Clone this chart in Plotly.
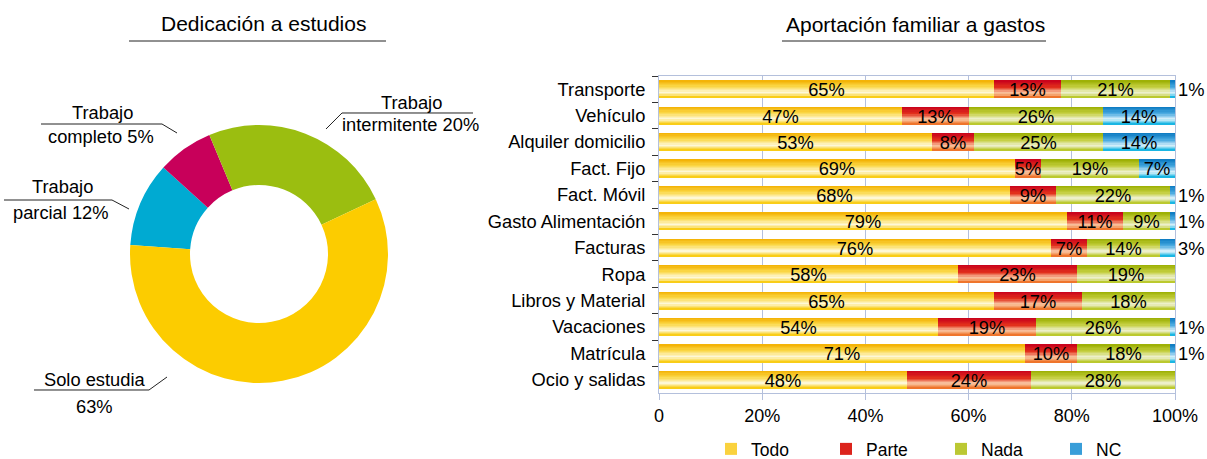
import plotly.graph_objects as go

W, H = 1207, 459
FONT = "Liberation Sans, Arial, sans-serif"

# ---------------- data ----------------
donut_names = ["Trabajo parcial", "Trabajo completo", "Trabajo intermitente", "Solo estudia"]
donut_shares = [10.6, 7.0, 24.3, 58.1]          # arc shares as drawn
donut_colors = ["#00aad2", "#c8005a", "#9bbe10", "#fccc00"]

categories = ["Transporte", "Vehículo", "Alquiler domicilio", "Fact. Fijo", "Fact. Móvil",
              "Gasto Alimentación", "Facturas", "Ropa", "Libros y Material", "Vacaciones",
              "Matrícula", "Ocio y salidas"]
todo = [65, 47, 53, 69, 68, 79, 76, 58, 65, 54, 71, 48]
parte = [13, 13, 8, 5, 9, 11, 7, 23, 17, 19, 10, 24]
nada = [21, 26, 25, 19, 22, 9, 14, 19, 18, 26, 18, 28]
nc = [1, 14, 14, 7, 1, 1, 3, 0, 0, 1, 1, 0]
series_names = ["Todo", "Parte", "Nada", "NC"]
x_tickvals = [0, 20, 40, 60, 80, 100]
x_ticktext = ["0", "20%", "40%", "60%", "80%", "100%"]

# vertical gradient stops per series (position from top, colour)
gradients = {
    "Todo":  [(0.0, "#f3b000"), (0.35, "#fbd848"), (0.68, "#fef8d8"), (1.0, "#f8c800")],
    "Parte": [(0.0, "#c8001c"), (0.40, "#e2301c"), (0.70, "#fac8a4"), (1.0, "#ee6a1c")],
    "Nada":  [(0.0, "#9aae00"), (0.38, "#c4cf40"), (0.70, "#f0f2d4"), (1.0, "#b4c418")],
    "NC":    [(0.0, "#0a78c0"), (0.38, "#46a8e0"), (0.70, "#dcf3fc"), (1.0, "#00aee0")],
}


def hex2rgb(h):
    h = h.lstrip("#")
    return tuple(int(h[i:i + 2], 16) for i in (0, 2, 4))


def grad_color(stops, t):
    for (p0, c0), (p1, c1) in zip(stops[:-1], stops[1:]):
        if p0 <= t <= p1:
            f = (t - p0) / (p1 - p0) if p1 > p0 else 0
            a, b = hex2rgb(c0), hex2rgb(c1)
            r = [round(a[i] + (b[i] - a[i]) * f) for i in range(3)]
            return "rgb(%d,%d,%d)" % tuple(r)
    return stops[-1][1]


fig = go.Figure()

# ---------------- donut ----------------
cx, cy, R = 259, 254, 129
fig.add_trace(go.Pie(
    labels=donut_names, values=donut_shares, hole=0.535, sort=False,
    direction="clockwise", rotation=-86,
    marker=dict(colors=donut_colors, line=dict(width=0)),
    textinfo="none", hoverinfo="skip", showlegend=False,
    domain=dict(x=[(cx - R) / W, (cx + R) / W], y=[1 - (cy + R) / H, 1 - (cy - R) / H]),
))

# ---------------- stacked bars with gradient ----------------
BW = 0.68
NSTRIP = 14
series_vals = [todo, parte, nada, nc]
bases = []
acc = [0] * len(categories)
for vals in series_vals:
    bases.append(list(acc))
    acc = [a + v for a, v in zip(acc, vals)]

for name, vals, base in zip(series_names, series_vals, bases):
    stops = gradients[name]
    for k in range(NSTRIP):
        t = k / NSTRIP
        col = grad_color(stops, (k + 0.5) / NSTRIP)
        fig.add_trace(go.Bar(
            y=categories, x=vals, base=base, orientation="h",
            width=BW * (1 - t), offset=-BW / 2 + t * BW,
            marker=dict(color=col, line=dict(width=0)),
            hoverinfo="skip", showlegend=False,
        ))

# legend carriers
for name in series_names:
    stops = gradients[name]
    fig.add_trace(go.Bar(
        y=[None], x=[None], orientation="h", name=name,
        marker=dict(color=grad_color(stops, 0.3), line=dict(width=0)),
        hoverinfo="skip", showlegend=True,
    ))

# value labels
for name, vals, base in zip(series_names, series_vals, bases):
    texts = ["%d%%" % v if v > 0 else "" for v in vals]
    pos = ["outside" if (name == "NC" and 0 < v < 5) else "inside" for v in vals]
    fig.add_trace(go.Bar(
        y=categories, x=vals, base=base, orientation="h",
        width=BW, offset=-BW / 2,
        marker=dict(color="rgba(0,0,0,0)", line=dict(width=0)),
        text=texts, textposition=pos, insidetextanchor="middle",
        constraintext="none", cliponaxis=False,
        textfont=dict(family=FONT, size=18.3, color="#000"),
        hoverinfo="skip", showlegend=False,
    ))

# ---------------- annotations / lines ----------------
def px(x):
    return x / W


def py(y):
    return 1 - y / H


annotations = []
shapes = []


def text(x, y, s, size=18.3):
    annotations.append(dict(x=px(x), y=py(y), xref="paper", yref="paper", text=s,
                            showarrow=False, xanchor="center", yanchor="middle",
                            font=dict(family=FONT, size=size, color="#000")))


def poly(pts):
    path = "M " + " L ".join("%f,%f" % (px(a), py(b)) for a, b in pts)
    shapes.append(dict(type="path", path=path, xref="paper", yref="paper",
                       line=dict(color="#222", width=1)))


# titles
text(263, 23, "Dedicación a estudios", 21)
poly([(129, 41), (386, 41)])
text(915, 24, "Aportación familiar a gastos", 21)
poly([(782, 41), (1046, 41)])

# donut labels
text(102, 113, "Trabajo")
text(101, 136, "completo 5%")
poly([(41, 124), (162, 124), (177, 133)])

text(62, 186, "Trabajo")
text(61, 212, "parcial 12%")
poly([(4, 200), (112, 200), (129, 209)])

text(411, 102, "Trabajo")
text(410, 124, "intermitente 20%")
poly([(326, 129), (342, 113), (473, 113)])

text(94, 379, "Solo estudia")
text(94, 406, "63%")
poly([(34, 390), (149, 390), (167, 377)])

AX = "#b4c0dc"
fig.update_layout(
    width=W, height=H,
    margin=dict(l=0, r=0, t=0, b=0, autoexpand=False),
    paper_bgcolor="white", plot_bgcolor="white",
    barmode="overlay", bargap=0,
    font=dict(family=FONT, size=18, color="#000"),
    annotations=annotations, shapes=shapes,
    xaxis=dict(domain=[659 / W, 1175 / W], range=[0, 100], tickvals=x_tickvals,
               ticktext=x_ticktext, showgrid=True, gridcolor=AX, gridwidth=1,
               showline=True, linecolor=AX, mirror=True, ticks="outside",
               tickcolor=AX, ticklen=6, zeroline=False, automargin=False,
               tickfont=dict(family=FONT, size=18, color="#000")),
    yaxis=dict(domain=[1 - 393 / H, 1 - 76 / H], categoryorder="array",
               categoryarray=categories, autorange="reversed", type="category",
               showgrid=False, showline=True, linecolor=AX, mirror=True,
               ticks="outside", tickson="boundaries", tickcolor="#333", ticklen=6,
               ticklabelstandoff=9, automargin=False,
               tickfont=dict(family=FONT, size=18.3, color="#000")),
    legend=dict(orientation="h", x=711 / W, xanchor="left", y=1 - 449 / H, yanchor="middle",
                entrywidth=70, entrywidthmode="pixels", traceorder="normal",
                font=dict(family=FONT, size=17.5, color="#000"),
                bgcolor="rgba(0,0,0,0)", itemclick=False),
)

fig.write_html("out.html", config={"displayModeBar": False},
               post_script="document.body.style.margin='0';document.body.style.overflow='hidden';")
